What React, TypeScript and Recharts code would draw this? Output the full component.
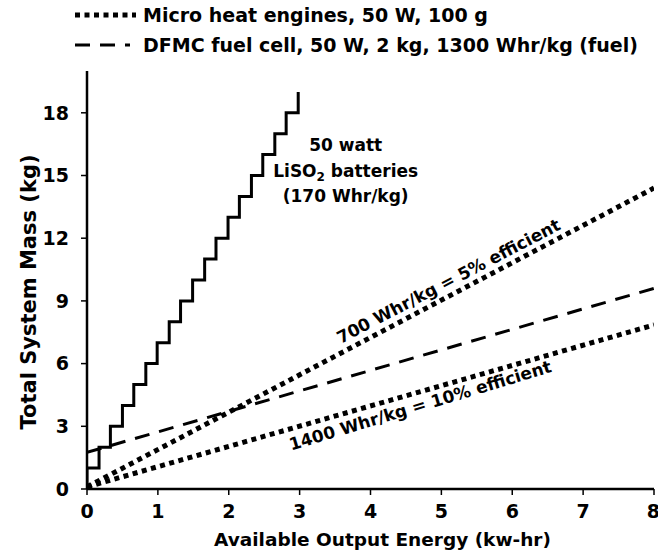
import { LineChart, Line, XAxis, YAxis, ReferenceDot } from "recharts";

// battery staircase: one LiSO2 cell (1 kg) per step
const battX = [0, 0, 0.17, 0.33, 0.5, 0.66, 0.83, 0.99, 1.16, 1.32, 1.49, 1.66, 1.82, 1.99, 2.15, 2.32, 2.48, 2.65, 2.81, 2.98];
const battY = [0, 1, 2, 3, 4, 5, 6, 7, 8, 9, 10, 11, 12, 13, 14, 15, 16, 17, 18, 19];

const lineX = [0, 8];
const heat5Y = [0.1, 14.4];
const heat10Y = [0.1, 7.85];
const fuelCellY = [1.75, 9.6];

const xTicks = [0, 1, 2, 3, 4, 5, 6, 7, 8];
const yTicks = [0, 3, 6, 9, 12, 15, 18];

const battery = battX.map((x, i) => ({ x, y: battY[i] }));
const heat5 = lineX.map((x, i) => ({ x, y: heat5Y[i] }));
const heat10 = lineX.map((x, i) => ({ x, y: heat10Y[i] }));
const fuelCell = lineX.map((x, i) => ({ x, y: fuelCellY[i] }));

const FONT = "'DejaVu Sans', Verdana, sans-serif";
const DOTS = "5 4.5";
const DASH = "15 10";

const tickStyle = { fill: "#000", fontSize: 19, fontWeight: 700, fontFamily: FONT };

function RotatedText({ cx, cy, text, angle }: any) {
  return (
    <text
      x={cx}
      y={cy}
      transform={`rotate(${angle}, ${cx}, ${cy})`}
      textAnchor="middle"
      dominantBaseline="central"
      fontSize={17}
      fontWeight={700}
      fontFamily={FONT}
      fill="#000"
    >
      {text}
    </text>
  );
}

function BatteryNote({ cx, cy }: any) {
  return (
    <text textAnchor="middle" fontSize={17} fontWeight={700} fontFamily={FONT} fill="#000">
      <tspan x={cx} y={cy - 20}>50 watt</tspan>
      <tspan x={cx} y={cy + 6}>
        LiSO<tspan fontSize={12} dy={4}>2</tspan>
        <tspan dy={-4}> batteries</tspan>
      </tspan>
      <tspan x={cx} y={cy + 31}>(170 Whr/kg)</tspan>
    </text>
  );
}

function YTitle() {
  return (
    <text
      x={29}
      y={292}
      transform="rotate(-90, 29, 292)"
      textAnchor="middle"
      dominantBaseline="central"
      fontSize={21}
      fontWeight={700}
      fontFamily={FONT}
      fill="#000"
    >
      Total System Mass (kg)
    </text>
  );
}

function LegendRow({ top, dash, label }: { top: number; dash: string; label: string }) {
  return (
    <div style={{ position: "absolute", left: 74, top: top - 12, height: 24, display: "flex", alignItems: "center" }}>
      <svg width={62} height={24}>
        <line
          x1={1}
          y1={12}
          x2={dash === DOTS ? 62 : 56}
          y2={12}
          stroke="#000"
          strokeWidth={dash === DOTS ? 5 : 3}
          strokeDasharray={dash}
        />
      </svg>
      <span style={{ marginLeft: 7, fontSize: 19, fontWeight: 700, fontFamily: FONT, whiteSpace: "nowrap" }}>{label}</span>
    </div>
  );
}

export default function App() {
  return (
    <div style={{ position: "absolute", left: 0, top: 0, width: 658, height: 554, background: "#fff" }}>
      <LineChart width={658} height={554} margin={{ top: 71, right: 4, bottom: 0, left: 0 }}>
        <XAxis
          dataKey="x"
          type="number"
          domain={[0, 8]}
          ticks={xTicks}
          allowDataOverflow
          axisLine={{ stroke: "#000", strokeWidth: 2.5 }}
          tickLine={{ stroke: "#000", strokeWidth: 1.5 }}
          tickSize={6}
          tickMargin={10}
          height={65}
          tick={tickStyle}
          label={{
            value: "Available Output Energy (kw-hr)",
            position: "insideBottom",
            offset: 8,
            dx: 12,
            style: { fill: "#000", fontSize: 18.5, fontWeight: 700, fontFamily: FONT },
          }}
        />
        <YAxis
          type="number"
          domain={[0, 20]}
          ticks={yTicks}
          allowDataOverflow
          width={87}
          axisLine={{ stroke: "#000", strokeWidth: 2.5 }}
          tickLine={{ stroke: "#000", strokeWidth: 1.5 }}
          tickSize={6}
          tickMargin={12}
          tick={tickStyle}
          label={{ content: () => <YTitle /> }}
        />
        <Line data={battery} dataKey="y" type="stepAfter" stroke="#000" strokeWidth={3} dot={false} isAnimationActive={false} />
        <Line data={fuelCell} dataKey="y" type="linear" stroke="#000" strokeWidth={3} strokeDasharray={DASH} dot={false} isAnimationActive={false} />
        <Line data={heat5} dataKey="y" type="linear" stroke="#000" strokeWidth={5} strokeDasharray={DOTS} dot={false} isAnimationActive={false} />
        <Line data={heat10} dataKey="y" type="linear" stroke="#000" strokeWidth={5} strokeDasharray={DOTS} dot={false} isAnimationActive={false} />
        <ReferenceDot x={3.65} y={15.2} r={0} shape={(p: any) => <BatteryNote cx={p.cx} cy={p.cy} />} />
        <ReferenceDot
          x={5.1}
          y={9.95}
          r={0}
          shape={(p: any) => <RotatedText cx={p.cx} cy={p.cy} angle={-27.5} text="700 Whr/kg = 5% efficient" />}
        />
        <ReferenceDot
          x={4.7}
          y={4.0}
          r={0}
          shape={(p: any) => <RotatedText cx={p.cx} cy={p.cy} angle={-16.8} text="1400 Whr/kg = 10% efficient" />}
        />
      </LineChart>
      <LegendRow top={15} dash={DOTS} label="Micro heat engines, 50 W, 100 g" />
      <LegendRow top={45} dash={DASH} label="DFMC fuel cell, 50 W, 2 kg, 1300 Whr/kg (fuel)" />
    </div>
  );
}
